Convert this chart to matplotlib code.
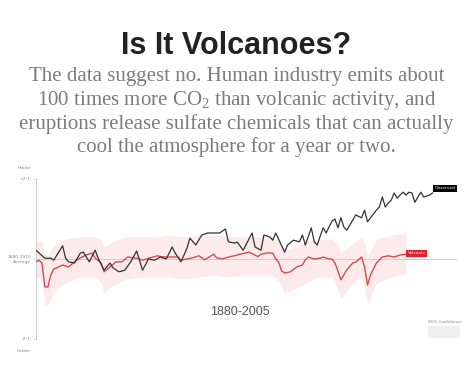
"""Is It Volcanoes? -- observed temperature vs. volcanic-only model, 1880-2014."""

import matplotlib
matplotlib.use("Agg")
import matplotlib.pyplot as plt

# observed temperature, deg F relative to 1880-1910 average
obs_years = [1880, 1881, 1883, 1885, 1886, 1889, 1890, 1891, 1893, 1895, 1896, 1898,
             1900, 1901, 1903, 1905, 1906, 1908, 1910, 1912, 1914, 1916, 1918, 1920,
             1922, 1924, 1926, 1927, 1929, 1931, 1932, 1934, 1936, 1938, 1940, 1942,
             1944, 1945, 1947, 1948, 1950, 1953, 1954, 1956, 1957, 1959, 1960, 1961,
             1964, 1965, 1967, 1969, 1970, 1971, 1973, 1974, 1975, 1977, 1978, 1980,
             1981, 1982, 1983, 1984, 1985, 1987, 1988, 1990, 1991, 1992, 1993, 1995,
             1996, 1997, 1998, 1999, 2000, 2001, 2002, 2003, 2004, 2005, 2006, 2007,
             2008, 2010, 2011, 2013, 2014]
obs_vals = [0.22, 0.15, 0.02, 0.02, -0.03, 0.33, 0.02, -0.07, -0.10, 0.15, 0.17, -0.07,
            0.22, 0.02, -0.28, -0.10, -0.22, -0.32, -0.28, -0.07, 0.20, -0.28, 0.00, -0.03,
            0.05, 0.00, 0.30, 0.15, -0.07, 0.27, 0.52, 0.35, 0.60, 0.65, 0.65, 0.65,
            0.75, 0.43, 0.40, 0.42, 0.22, 0.65, 0.30, 0.22, 0.60, 0.55, 0.47, 0.65,
            0.17, 0.35, 0.47, 0.43, 0.60, 0.35, 0.78, 0.43, 0.35, 0.78, 0.65, 0.95,
            1.00, 0.78, 1.03, 0.80, 0.72, 0.97, 1.10, 1.03, 1.22, 0.93, 1.03, 1.22,
            1.30, 1.55, 1.30, 1.40, 1.47, 1.65, 1.52, 1.60, 1.67, 1.60, 1.67, 1.65,
            1.42, 1.67, 1.55, 1.60, 1.65]

# volcanic-only model
vol_years = [1880, 1881, 1882, 1883, 1884, 1885, 1886, 1887, 1889, 1891, 1893, 1895,
             1897, 1899, 1900, 1902, 1903, 1905, 1907, 1909, 1911, 1914, 1916, 1918,
             1921, 1923, 1926, 1928, 1929, 1931, 1933, 1935, 1937, 1940, 1941, 1943,
             1945, 1947, 1949, 1952, 1955, 1956, 1958, 1960, 1961, 1962, 1963, 1964,
             1966, 1968, 1970, 1971, 1972, 1974, 1976, 1977, 1979, 1980, 1981, 1982,
             1983, 1985, 1987, 1988, 1990, 1991, 1992, 1993, 1995, 1997, 1999, 2001,
             2003, 2005]
vol_vals = [-0.07, -0.03, -0.10, -0.70, -0.70, -0.40, -0.25, -0.22, -0.15, -0.20, -0.07, 0.03,
            0.10, 0.15, 0.02, -0.10, -0.32, -0.20, -0.07, -0.07, 0.05, 0.02, -0.03, 0.02,
            0.08, 0.05, 0.05, 0.05, -0.03, 0.00, 0.03, 0.08, -0.02, 0.12, 0.03, 0.00,
            0.05, 0.08, 0.12, 0.17, 0.06, 0.12, 0.15, 0.15, 0.00, -0.08, -0.30, -0.35,
            -0.32, -0.20, -0.15, -0.02, 0.05, 0.00, 0.02, 0.05, 0.00, 0.00, -0.10, -0.30,
            -0.52, -0.27, -0.10, -0.08, 0.05, -0.20, -0.65, -0.40, -0.10, 0.05, 0.08, 0.05,
            0.10, 0.12]

# 95% confidence band of the volcanic model
band_years = [1880, 1882, 1883, 1884, 1886, 1890, 1895, 1900, 1902, 1903, 1905, 1910,
              1915, 1920, 1925, 1930, 1935, 1940, 1945, 1950, 1955, 1960, 1962, 1964,
              1966, 1970, 1975, 1980, 1982, 1983, 1985, 1988, 1990, 1991, 1992, 1993,
              1995, 2000, 2005]
band_hi = [0.45, 0.45, 0.10, 0.10, 0.35, 0.50, 0.55, 0.55, 0.50, 0.30, 0.40, 0.55,
           0.55, 0.55, 0.60, 0.55, 0.60, 0.60, 0.55, 0.55, 0.55, 0.55, 0.45, 0.25,
           0.25, 0.40, 0.50, 0.50, 0.35, 0.15, 0.25, 0.45, 0.55, 0.40, 0.10, 0.20,
           0.50, 0.60, 0.65]
band_lo = [-0.45, -0.55, -1.15, -1.15, -0.80, -0.60, -0.45, -0.45, -0.60, -0.85, -0.70, -0.50,
           -0.45, -0.45, -0.45, -0.50, -0.45, -0.40, -0.45, -0.40, -0.40, -0.40, -0.55, -0.85,
           -0.80, -0.65, -0.45, -0.45, -0.75, -1.00, -0.80, -0.55, -0.45, -0.70, -1.15, -0.95,
           -0.60, -0.45, -0.35]

y_ticks = [2, 0, -2]
y_labels = ["+2°F", "1880-1910\nAverage", "-2°F"]

W, H = 473, 370
plt.rcParams["mathtext.fontset"] = "custom"
plt.rcParams["mathtext.rm"] = "Liberation Serif"
plt.rcParams["mathtext.it"] = "Liberation Serif"
fig = plt.figure(figsize=(W / 100, H / 100), dpi=100)

# axes placed so that 1880 -> x=36px, 2005 -> x=406px, +2F -> y=179px, -2F -> y=339px
px_per_yr = (406 - 36) / (2005 - 1880)
x_end = 1880 + (460 - 36) / px_per_yr
ax = fig.add_axes([36 / W, 1 - 339 / H, (460 - 36) / W, 160 / H])
ax.set_xlim(1880, x_end)
ax.set_ylim(-2, 2)

ax.fill_between(band_years, band_lo, band_hi, color="#fdeaea", lw=0, zorder=1)
ax.plot([1880, 2022], [0, 0], c="#cfcfcf", lw=0.7, zorder=2)
ax.plot(vol_years, vol_vals, c="#d4444f", lw=0.95, zorder=3)
ax.plot(obs_years, obs_vals, c="#333333", lw=0.9, zorder=4)

ax.text(obs_years[-1] + 0.6, obs_vals[-1] + 0.12, "Observed", fontsize=3.2, color="white",
        va="center", ha="left", zorder=5,
        bbox=dict(boxstyle="square,pad=0.35", fc="black", ec="none"))
ax.text(vol_years[-1] + 0.6, vol_vals[-1] + 0.02, "Volcanic", fontsize=3.2, color="white",
        va="center", ha="left", zorder=5,
        bbox=dict(boxstyle="square,pad=0.35", fc="#e3202b", ec="none"))

for s in ("top", "right", "bottom"):
    ax.spines[s].set_visible(False)
ax.spines["left"].set_color("#cccccc")
ax.spines["left"].set_linewidth(0.7)
ax.set_xticks([])
ax.set_yticks(y_ticks)
ax.set_yticklabels(y_labels, fontsize=3.2, color="#888888", ha="right")
ax.tick_params(axis="y", length=2, width=0.5, color="#cccccc", pad=1.5)
ax.set_facecolor("none")

fig.text(31 / W, 1 - 168 / H, "Hotter", fontsize=3.2, color="#888888", ha="right", va="center")
fig.text(31 / W, 1 - 351 / H, "Colder", fontsize=3.2, color="#888888", ha="right", va="center")
fig.text(240 / W, 1 - 312 / H, "1880-2005", fontsize=9, color="#555555",
         ha="center", va="center", family="Liberation Sans")

# 95% confidence legend
fig.text(428 / W, 1 - 322 / H, "95% Confidence", fontsize=3, color="#888888", ha="left", va="center")
fig.patches.append(plt.Rectangle((428 / W, 1 - 338 / H), 32 / W, 12 / H,
                                 transform=fig.transFigure, fc="#eeeeee", ec="none"))

fig.text(0.5, 1 - 46 / H, "Is It Volcanoes?", fontsize=22, fontweight="bold",
         color="#222222", ha="center", va="center", family="Liberation Sans")
sub = ("The data suggest no. Human industry emits about\n"
       "100 times more CO$_2$ than volcanic activity, and\n"
       "eruptions release sulfate chemicals that can actually\n"
       "cool the atmosphere for a year or two.")
fig.text(0.5, 1 - 112 / H, sub, fontsize=15, color="#7c7c7c", ha="center", va="center",
         family="Liberation Serif", linespacing=1.17)

fig.savefig("out.png", dpi=100)
